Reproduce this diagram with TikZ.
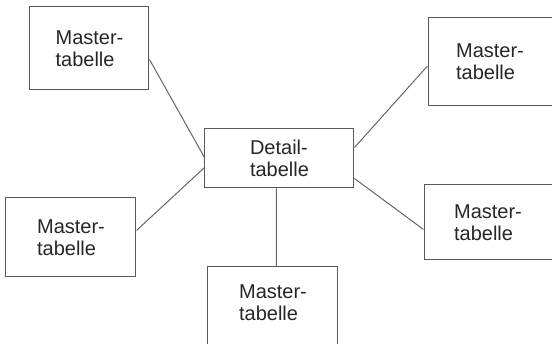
\documentclass[tikz,border=0pt]{standalone}
\usepackage{fontspec}
\setmainfont{Liberation Sans}
\usetikzlibrary{positioning}

\begin{document}
\begin{tikzpicture}[every node/.style={font=\fontsize{20pt}{22pt}\selectfont},
                    tabelle/.style={draw=black!65,line width=1pt,text=black!85,align=left,inner sep=0pt},
                    link/.style={draw=black!60,line width=1pt},node distance=0pt]
      \useasboundingbox (-279.5pt,-185.5pt) rectangle (272.5pt,158.5pt);

      \node[tabelle,minimum width=149pt,minimum height=59pt](Detail) at (0,0) {Detail-\\tabelle};
      \node[tabelle,above left=38pt and 55pt of Detail,  minimum width=119pt,minimum height=83pt](MasterTL) {Master-\\tabelle};
      \node[tabelle,above right=22pt and 73pt of Detail, minimum width=124pt,minimum height=88pt](MasterTR) {Master-\\tabelle};
      \node[tabelle,below left=9pt and 68pt of Detail,   minimum width=130pt,minimum height=79pt](MasterL)  {Master-\\tabelle};
      \node[tabelle,below right=-4pt and 69pt of Detail, minimum width=128pt,minimum height=75pt](MasterR)  {Master-\\tabelle};
      \node[tabelle,below=78pt of Detail,xshift=-6.5pt,  minimum width=130pt,minimum height=82pt,text depth=10pt](MasterB) {Master-\\tabelle};

      \path[link] ([yshift=-11pt]MasterTL.east) -- ([yshift=1pt]Detail.west)
                  ([yshift=7pt]MasterL.east)    -- ([yshift=-9pt]Detail.west)
                  ([yshift=11pt]Detail.east)    -- ([yshift=-4pt]MasterTR.west)
                  ([yshift=-20pt]Detail.east)   -- ([yshift=-7pt]MasterR.west)
                  ([xshift=-3pt]Detail.south)   -- ([xshift=-3pt]Detail.south |- MasterB.north);

\end{tikzpicture}
\end{document}
